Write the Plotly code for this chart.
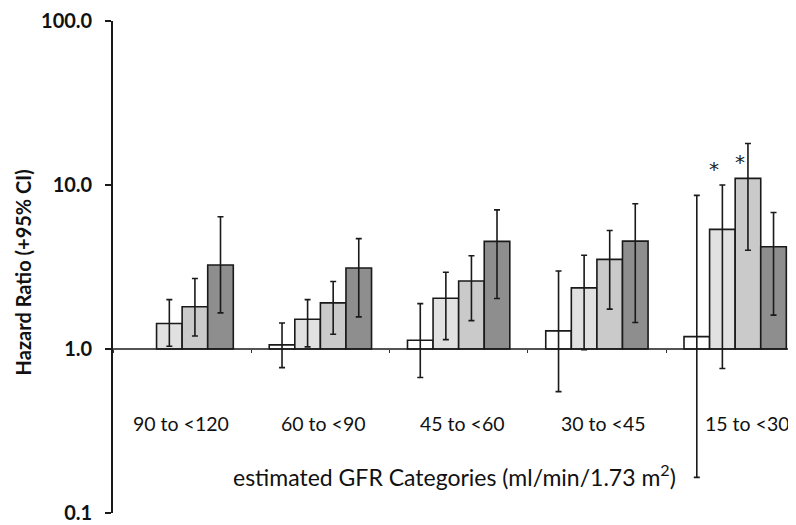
import math
import plotly.graph_objects as go

categories = ["90 to <120", "60 to <90", "45 to <60", "30 to <45", "15 to <30"]

hr_1 = [None, 1.06, 1.13, 1.29, 1.19]
lo_1 = [None, 0.77, 0.67, 0.55, 0.165]
hi_1 = [None, 1.44, 1.89, 2.99, 8.65]

hr_2 = [1.43, 1.52, 2.04, 2.36, 5.36]
lo_2 = [1.04, 1.03, 1.14, 0.99, 0.76]
hi_2 = [2.00, 2.00, 2.94, 3.73, 10.0]

hr_3 = [1.81, 1.91, 2.60, 3.52, 10.97]
lo_3 = [1.20, 1.23, 1.49, 1.75, 4.00]
hi_3 = [2.69, 2.58, 3.70, 5.28, 17.9]

hr_4 = [3.25, 3.12, 4.53, 4.55, 4.20]
lo_4 = [1.66, 1.57, 2.03, 1.45, 1.61]
hi_4 = [6.40, 4.71, 7.05, 7.69, 6.80]

y_tick_vals = [0.1, 1, 10, 100]
y_tick_text = ["0.1", "1.0", "10.0", "100.0"]

# significance markers: (series index, category, height of the star)
stars = [(1, "15 to <30", 12.6), (2, "15 to <30", 13.9)]

series = [(hr_1, lo_1, hi_1, "#ffffff"),
          (hr_2, lo_2, hi_2, "#e1e1e1"),
          (hr_3, lo_3, hi_3, "#cacaca"),
          (hr_4, lo_4, hi_4, "#8e8e8e")]

FONT = "Lato"
fig = go.Figure()
for k, (hr, lo, hi, col) in enumerate(series):
    y = [None if v is None else v - 1 for v in hr]
    plus = [None if v is None else h - v for v, h in zip(hr, hi)]
    minus = [None if v is None else v - l for v, l in zip(hr, lo)]
    fig.add_trace(go.Bar(
        x=categories, y=y, base=1,
        name=f"Series {k+1}",
        marker=dict(color=col, line=dict(color="#1a1a1a", width=1.6)),
        error_y=dict(type="data", array=plus, arrayminus=minus, symmetric=False,
                     color="#1a1a1a", thickness=1.6, width=3),
        showlegend=False, hoverinfo="skip",
    ))

fig.add_shape(type="line", xref="paper", yref="y", x0=0, x1=1, y0=1, y1=1,
              line=dict(color="#1a1a1a", width=1.4), layer="above")

label_shift = [-1, 3, 4, 7, 12]
annotations = []
for c, s in zip(categories, label_shift):
    annotations.append(dict(x=c, xref="x", y=0.181, yref="paper", text=c,
                            showarrow=False, xshift=s, xanchor="center", yanchor="middle",
                            font=dict(family=FONT, size=19.5, color="#111")))
annotations.append(dict(x=0.4995, xref="paper", y=0.077, yref="paper",
                        xanchor="center", yanchor="middle",
                        text="estimated GFR Categories (ml/min/1.73 m<sup>2</sup>)",
                        showarrow=False, font=dict(family=FONT, size=23, color="#111")))
annotations.append(dict(x=-0.1318, xref="paper", y=0.489, yref="paper",
                        xanchor="center", yanchor="middle",
                        text="<b>Hazard Ratio (+95% CI)</b>", textangle=-90,
                        showarrow=False, font=dict(family=FONT, size=20, color="#111")))
bar_w = 0.74 / 4
for k, c, yv in stars:
    off = (k - 1.5) * bar_w * 138.3
    annotations.append(dict(x=c, xref="x", y=math.log10(yv), yref="y", text="*",
                            showarrow=False, xshift=off - 8,
                            xanchor="center", yanchor="middle",
                            font=dict(family="DejaVu Sans", size=20, color="#222")))

fig.update_layout(
    width=788, height=517,
    margin=dict(l=105, r=0, t=8, b=12),
    paper_bgcolor="white", plot_bgcolor="white",
    barmode="group", bargap=0.26, bargroupgap=0,
    annotations=annotations,
    xaxis=dict(type="category", range=[-0.5, 4.44], anchor="free", position=1/3,
               showline=False, showticklabels=False, ticks="outside",
               tickson="boundaries", ticklen=3, tickcolor="#333", showgrid=False,
               zeroline=False),
    yaxis=dict(type="log", range=[-1, 2], tickvals=y_tick_vals, ticktext=y_tick_text,
               showline=True, linecolor="#1a1a1a", linewidth=1.6,
               ticks="outside", ticklen=6, tickwidth=1.6, tickcolor="#1a1a1a",
               showgrid=False, zeroline=False, ticklabeloverflow="allow",
               ticklabelstandoff=9,
               tickfont=dict(family=FONT, size=20, color="#111", weight="bold")),
)

fig.write_html("out.html")
